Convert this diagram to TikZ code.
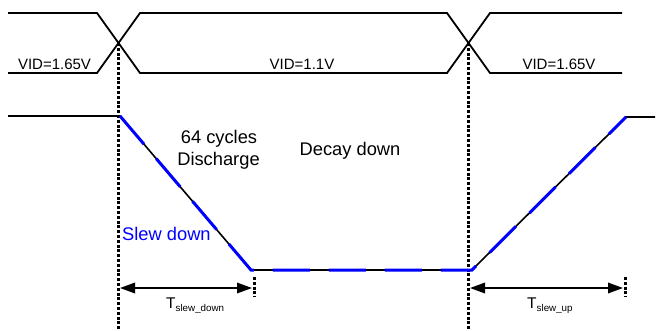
\documentclass[tikz,border=0pt]{standalone}
\usepackage{fontspec}
\setmainfont{Liberation Sans}
\usetikzlibrary{arrows.meta}
\begin{document}
\begin{tikzpicture}[x=1pt,y=-1pt,
  bus/.style={line width=1.8pt, line join=miter},
  wave/.style={line width=1.6pt},
  bluedash/.style={line width=3pt, blue, dash pattern=on 37pt off 19pt},
  guide/.style={line width=3pt, dash pattern=on 3pt off 1.8pt},
  dim/.style={line width=1.8pt, {Triangle[length=15pt,width=10.5pt]}-{Triangle[length=15pt,width=10.5pt]}},
  lbl/.style={font=\fontsize{18.3}{21}\selectfont, inner sep=0pt, anchor=base},
  vid/.style={font=\fontsize{15}{17}\selectfont, inner sep=0pt, anchor=base},
  tlbl/.style={inner sep=0pt, anchor=base west}]
\useasboundingbox (0,0) rectangle (661,330);
% bus coordinates
\coordinate (a0) at (8,13);   \coordinate (a1) at (97,13);
\coordinate (a2) at (140,73); \coordinate (a3) at (447,73);
\coordinate (a4) at (490,13); \coordinate (a5) at (622,13);
\coordinate (b0) at (8,73);   \coordinate (b1) at (97,73);
\coordinate (b2) at (140,13); \coordinate (b3) at (447,13);
\coordinate (b4) at (490,73); \coordinate (b5) at (622,73);
\draw[bus] (a0) -- (a1) -- (a2) -- (a3) -- (a4) -- (a5);
\draw[bus] (b0) -- (b1) -- (b2) -- (b3) -- (b4) -- (b5);
% crossings and guides
\coordinate (x1) at (118.5,43); \coordinate (x1e) at (118.5,330);
\coordinate (x2) at (468.5,43); \coordinate (x2e) at (468.5,330);
\draw[guide] (x1) -- (x1e);
\draw[guide] (x2) -- (x2e);
% waveform
\coordinate (w0) at (8,116);   \coordinate (w1) at (120,116);
\coordinate (w2) at (251,270); \coordinate (w3) at (472,270);
\coordinate (w4) at (626,117); \coordinate (w5) at (655,117);
\draw[wave] (w0) -- (w1) -- (w2) -- (w3) -- (w4) -- (w5);
\draw[bluedash] (w1) -- (w2) -- (w3) -- (w4);
% dimension ticks
\coordinate (t1a) at (254,277); \coordinate (t1b) at (254,297);
\coordinate (t2a) at (625,277); \coordinate (t2b) at (625,297);
\draw[guide] (t1a) -- (t1b);
\draw[guide] (t2a) -- (t2b);
\coordinate (d1a) at (120,288); \coordinate (d1b) at (252,288);
\coordinate (d2a) at (470,288); \coordinate (d2b) at (623,288);
\draw[dim] (d1a) -- (d1b);
\draw[dim] (d2a) -- (d2b);
% labels
\node[vid] (v1) at (54.5,69.3) {VID=1.65V};
\node[vid] (v2) at (302,69.3) {VID=1.1V};
\node[vid] (v3) at (559,69.3) {VID=1.65V};
\node[lbl] (c1) at (219,143.3) {64 cycles};
\node[lbl] (c2) at (218.5,165) {Discharge};
\node[lbl] (dd) at (350,155.7) {Decay down};
\node[lbl, anchor=base west, text=blue] (sd) at (122,240) {Slew down};
\node[tlbl] (ts1) at (166,308) {\fontsize{15.5}{18}\selectfont T\raisebox{-3pt}{\fontsize{9.8}{11}\selectfont slew\_down}};
\node[tlbl] (ts2) at (527,308) {\fontsize{15.5}{18}\selectfont T\raisebox{-3pt}{\fontsize{9.8}{11}\selectfont slew\_up}};
\end{tikzpicture}
\end{document}
